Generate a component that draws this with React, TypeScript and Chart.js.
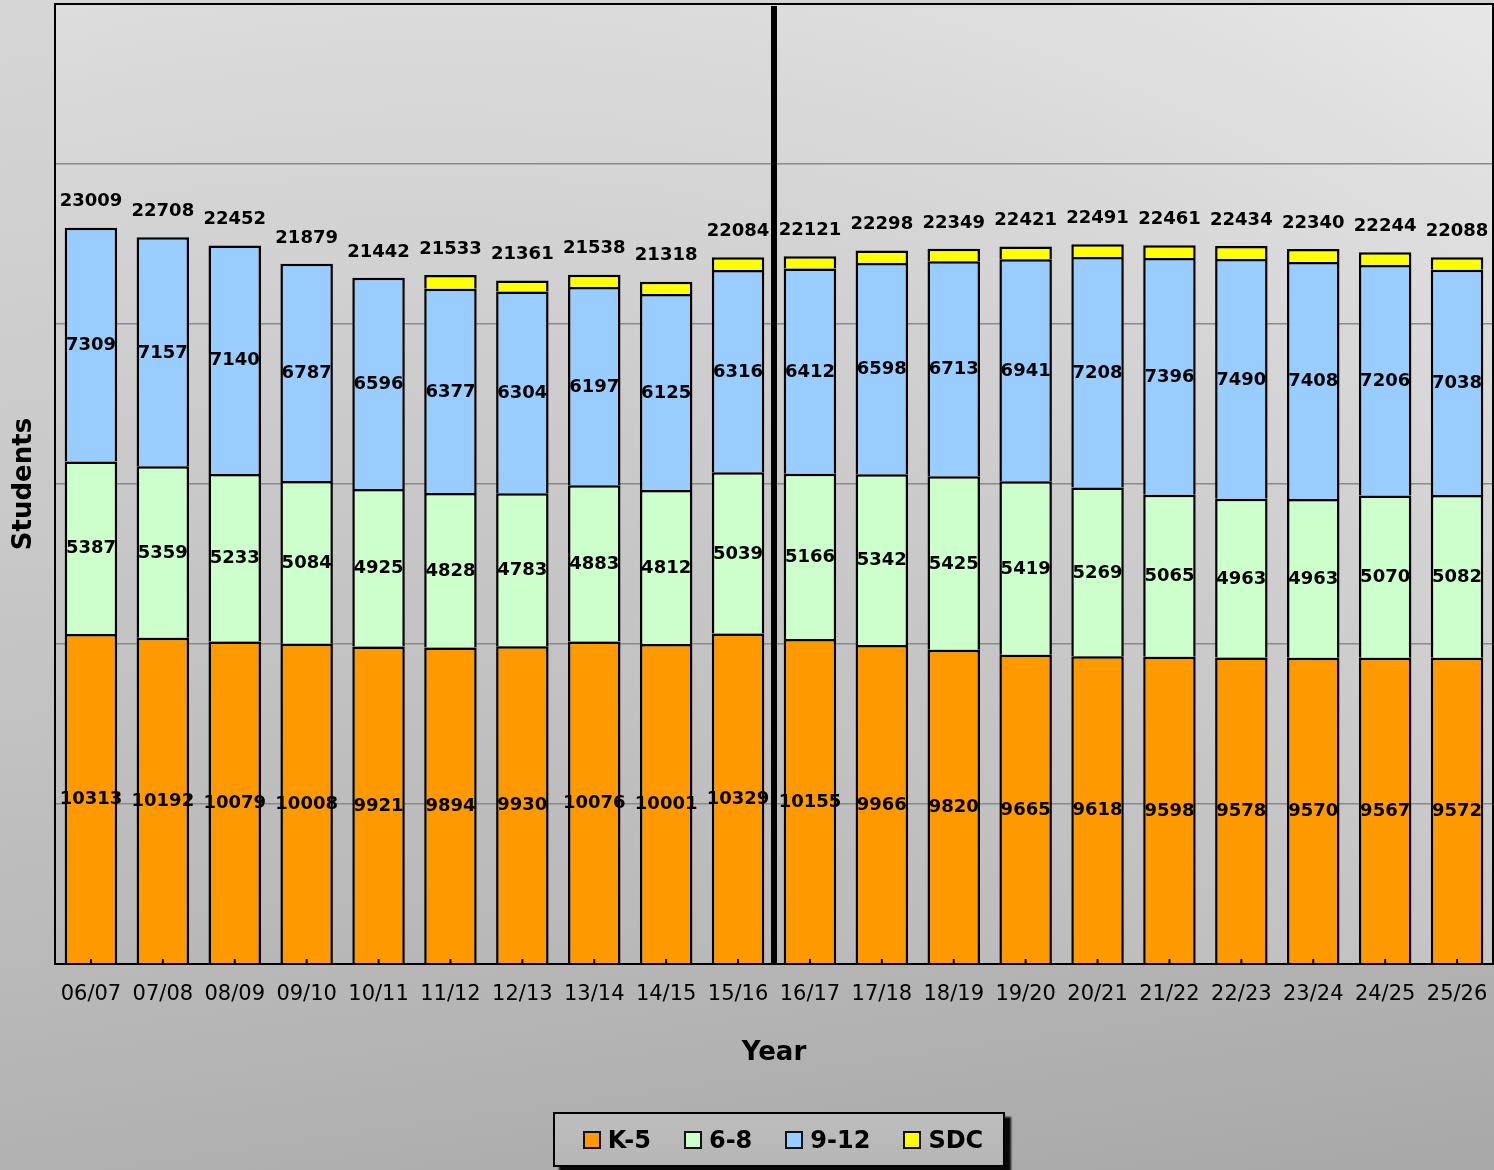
import React, { useEffect, useRef } from 'react';
import { Chart, registerables } from 'chart.js';

Chart.register(...registerables);

const years = ['06/07', '07/08', '08/09', '09/10', '10/11', '11/12', '12/13', '13/14', '14/15', '15/16',
  '16/17', '17/18', '18/19', '19/20', '20/21', '21/22', '22/23', '23/24', '24/25', '25/26'];
const k5 = [10313, 10192, 10079, 10008, 9921, 9894, 9930, 10076, 10001, 10329,
  10155, 9966, 9820, 9665, 9618, 9598, 9578, 9570, 9567, 9572];
const g68 = [5387, 5359, 5233, 5084, 4925, 4828, 4783, 4883, 4812, 5039,
  5166, 5342, 5425, 5419, 5269, 5065, 4963, 4963, 5070, 5082];
const g912 = [7309, 7157, 7140, 6787, 6596, 6377, 6304, 6197, 6125, 6316,
  6412, 6598, 6713, 6941, 7208, 7396, 7490, 7408, 7206, 7038];
const sdc = [0, 0, 0, 0, 0, 434, 344, 382, 380, 400,
  388, 392, 391, 396, 396, 402, 403, 399, 401, 396];
const totals = [23009, 22708, 22452, 21879, 21442, 21533, 21361, 21538, 21318, 22084,
  22121, 22298, 22349, 22421, 22491, 22461, 22434, 22340, 22244, 22088];
const seriesNames = ['K-5', '6-8', '9-12', 'SDC'];
const seriesColors = ['#FF9900', '#CCFFCC', '#99CCFF', '#FFFF00'];
const yMax = 30000;
const yStep = 5000;
const dividerAfterIndex = 9;

const FONT = '"DejaVu Sans", sans-serif';

const decorPlugin = {
  id: 'decor',
  beforeDraw(chart: any) {
    const { ctx, chartArea } = chart;
    const { left, top, right, bottom } = chartArea;
    ctx.save();
    const g = ctx.createLinearGradient(0, top, 0, bottom);
    g.addColorStop(0, '#e4e4e4');
    g.addColorStop(0.5, '#d0d0d0');
    g.addColorStop(1, '#bebebe');
    ctx.fillStyle = g;
    ctx.fillRect(left, top, right - left, bottom - top);
    const h = ctx.createLinearGradient(left, 0, right, 0);
    h.addColorStop(0, 'rgba(0,0,0,0.03)');
    h.addColorStop(1, 'rgba(255,255,255,0.12)');
    ctx.fillStyle = h;
    ctx.fillRect(left, top, right - left, bottom - top);
    ctx.restore();
  },
  afterDatasetsDraw(chart: any) {
    const { ctx, chartArea, scales } = chart;
    const { left, top, right, bottom } = chartArea;
    const xs = scales.x;
    const ys = scales.y;
    ctx.save();
    ctx.font = `bold 18px ${FONT}`;
    ctx.fillStyle = '#000';
    ctx.textAlign = 'center';
    ctx.textBaseline = 'middle';
    for (let d = 0; d < 3; d++) {
      const meta = chart.getDatasetMeta(d);
      meta.data.forEach((el: any, i: number) => {
        const v = chart.data.datasets[d].data[i];
        if (!v) return;
        const cy = (el.y + el.base) / 2;
        ctx.fillText(String(v), el.x, cy + 1);
      });
    }
    totals.forEach((t, i) => {
      const x = xs.getPixelForValue(i);
      const y = ys.getPixelForValue(t);
      ctx.fillText(String(t), x, y - 26);
    });
    ctx.strokeStyle = '#000';
    ctx.lineWidth = 2;
    years.forEach((_, i) => {
      const x = xs.getPixelForValue(i);
      ctx.beginPath();
      ctx.moveTo(x, bottom);
      ctx.lineTo(x, bottom - 5);
      ctx.stroke();
    });
    const dx = (xs.getPixelForValue(dividerAfterIndex) + xs.getPixelForValue(dividerAfterIndex + 1)) / 2;
    ctx.lineWidth = 6;
    ctx.beginPath();
    ctx.moveTo(dx, top + 2);
    ctx.lineTo(dx, bottom);
    ctx.stroke();
    ctx.lineWidth = 2;
    ctx.strokeRect(left, top, right - left, bottom - top);
    ctx.restore();
  },
};

export default function App() {
  const canvasRef = useRef<HTMLCanvasElement | null>(null);

  useEffect(() => {
    if (!canvasRef.current) return;
    const seriesData = [k5, g68, g912, sdc];
    const chart = new Chart(canvasRef.current, {
      type: 'bar',
      data: {
        labels: years,
        datasets: seriesData.map((d, i) => ({
          label: seriesNames[i],
          data: d,
          backgroundColor: seriesColors[i],
          borderColor: '#000',
          borderWidth: 2.5,
          categoryPercentage: 1,
          barPercentage: 0.73,
        })),
      },
      options: {
        responsive: false,
        animation: false,
        devicePixelRatio: 1,
        layout: { padding: { top: 4, right: 1, bottom: 96, left: 0 } },
        plugins: {
          legend: { display: false },
          tooltip: { enabled: false },
        },
        scales: {
          x: {
            stacked: true,
            grid: { display: false, drawTicks: false },
            border: { display: true, color: '#000', width: 2 },
            ticks: {
              color: '#000',
              font: { family: FONT, size: 21 },
              padding: 18,
              maxRotation: 0,
              autoSkip: false,
            },
            title: {
              display: true,
              text: 'Year',
              color: '#000',
              font: { family: FONT, size: 26, weight: 'bold' },
              padding: { top: 0, bottom: 5 },
            },
            afterFit: (scale: any) => {
              scale.height = 110;
              scale.paddingLeft = 0;
              scale.paddingRight = 0;
            },
          },
          y: {
            stacked: true,
            min: 0,
            max: yMax,
            ticks: { display: false, stepSize: yStep },
            grid: { color: '#8a8a8a', lineWidth: 1.5, drawTicks: false },
            border: { display: true, color: '#000', width: 2 },
            title: {
              display: true,
              text: 'Students',
              color: '#000',
              font: { family: FONT, size: 26, weight: 'bold' },
              padding: { top: 9, bottom: 0 },
            },
            afterFit: (scale: any) => {
              scale.width = 55;
              scale.paddingTop = 0;
              scale.paddingBottom = 0;
            },
          },
        },
      } as any,
      plugins: [decorPlugin],
    });
    return () => chart.destroy();
  }, []);

  return (
    <div
      style={{
        position: 'absolute',
        left: 0,
        top: 0,
        width: 1494,
        height: 1170,
        overflow: 'hidden',
        background: 'linear-gradient(172deg, #d6d6d6 0%, #c8c8c8 40%, #b7b7b7 75%, #a8a8a8 100%)',
        fontFamily: FONT,
      }}
    >
      <canvas ref={canvasRef} width={1494} height={1170} style={{ position: 'absolute', left: 0, top: 0, width: 1494, height: 1170 }} />
      <div
        style={{
          position: 'absolute',
          left: 553,
          top: 1112,
          width: 452,
          height: 55,
          boxSizing: 'border-box',
          border: '2px solid #000',
          boxShadow: '6px 5px 2px rgba(0,0,0,0.95)',
          background: 'linear-gradient(180deg, #bdbdbd, #b6b6b6)',
          display: 'flex',
          alignItems: 'center',
          justifyContent: 'center',
          gap: 33,
          paddingLeft: 8,
        }}
      >
        {seriesNames.map((n, i) => (
          <div key={n} style={{ display: 'flex', alignItems: 'center' }}>
            <span
              style={{
                display: 'inline-block',
                width: 18,
                height: 18,
                boxSizing: 'border-box',
                border: '2px solid #111',
                background: seriesColors[i],
                marginRight: 7,
              }}
            />
            <span style={{ fontWeight: 'bold', fontSize: 24, color: '#000', lineHeight: '24px' }}>{n}</span>
          </div>
        ))}
      </div>
    </div>
  );
}
